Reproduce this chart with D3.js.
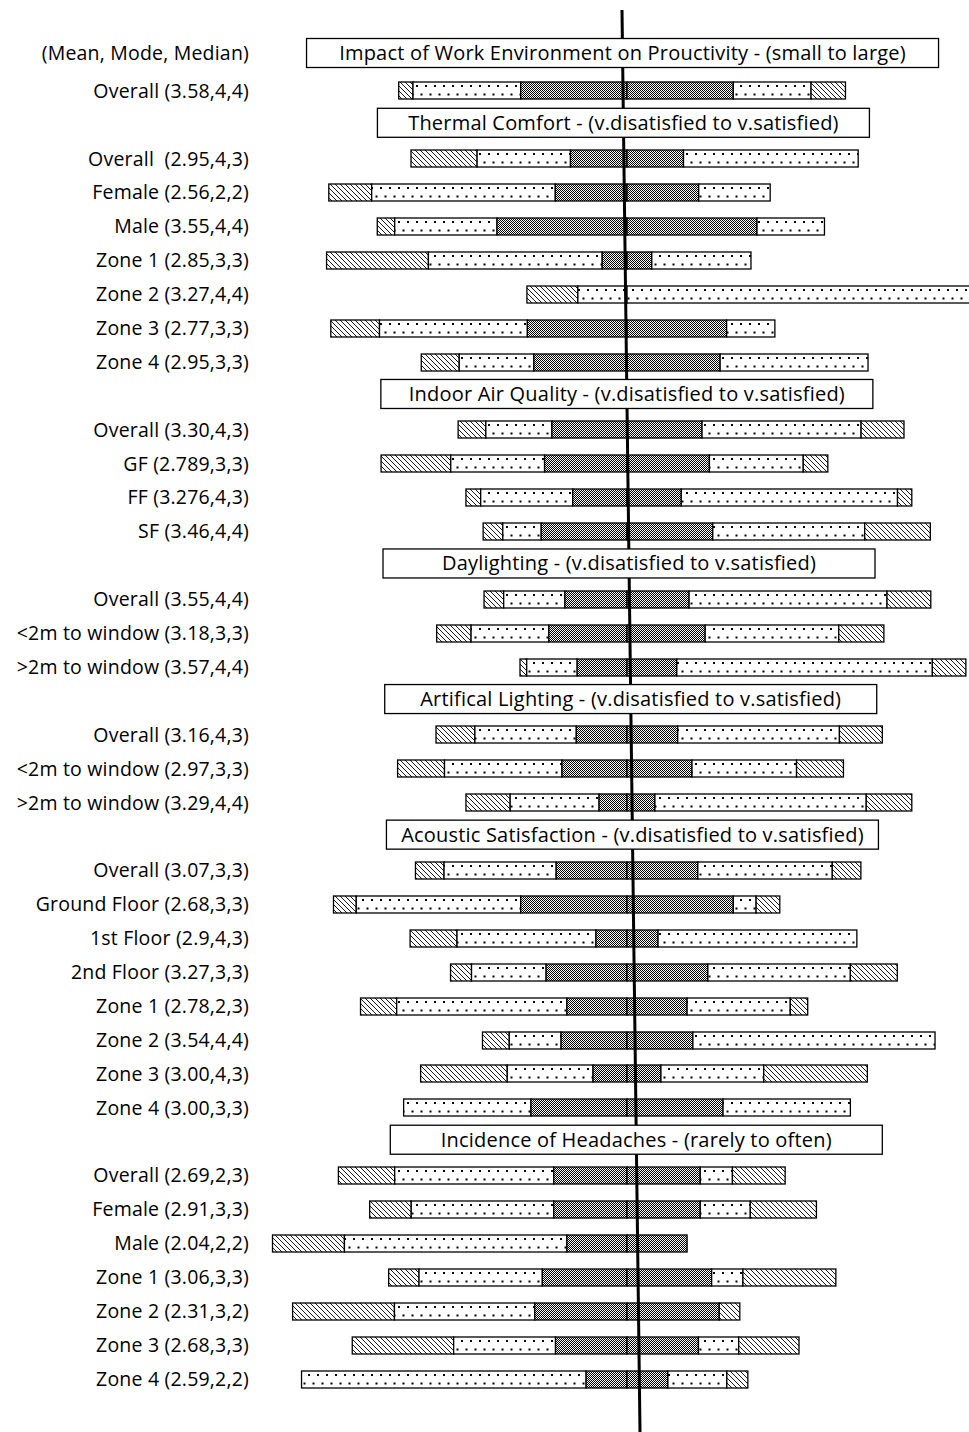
<!DOCTYPE html>
<html>
<head>
<meta charset="utf-8">
<script src="https://cdn.jsdelivr.net/npm/d3@7"></script>
<style>
  body { margin: 0; background: #fff; }
  text { font-family: "Open Sans", sans-serif; font-size: 19.5px; letter-spacing: 0.2px; fill: #000; white-space: pre; }
  .head text { font-size: 20px; }
</style>
</head>
<body>
<svg width="969" height="1432"></svg>
<script>
const headers = [
  "Impact of Work Environment on Prouctivity - (small to large)",
  "Thermal Comfort - (v.disatisfied to v.satisfied)",
  "Indoor Air Quality - (v.disatisfied to v.satisfied)",
  "Daylighting - (v.disatisfied to v.satisfied)",
  "Artifical Lighting - (v.disatisfied to v.satisfied)",
  "Acoustic Satisfaction - (v.disatisfied to v.satisfied)",
  "Incidence of Headaches - (rarely to often)"
];
const statsLabel = "(Mean, Mode, Median)";
const groupSizes = [1, 7, 4, 3, 3, 8, 7];

const rowLabels = [
  "Overall (3.58,4,4)",
  "Overall  (2.95,4,3)", "Female (2.56,2,2)", "Male (3.55,4,4)", "Zone 1 (2.85,3,3)",
  "Zone 2 (3.27,4,4)", "Zone 3 (2.77,3,3)", "Zone 4 (2.95,3,3)",
  "Overall (3.30,4,3)", "GF (2.789,3,3)", "FF (3.276,4,3)", "SF (3.46,4,4)",
  "Overall (3.55,4,4)", "<2m to window (3.18,3,3)", ">2m to window (3.57,4,4)",
  "Overall (3.16,4,3)", "<2m to window (2.97,3,3)", ">2m to window (3.29,4,4)",
  "Overall (3.07,3,3)", "Ground Floor (2.68,3,3)", "1st Floor (2.9,4,3)", "2nd Floor (3.27,3,3)",
  "Zone 1 (2.78,2,3)", "Zone 2 (3.54,4,4)", "Zone 3 (3.00,4,3)", "Zone 4 (3.00,3,3)",
  "Overall (2.69,2,3)", "Female (2.91,3,3)", "Male (2.04,2,2)", "Zone 1 (3.06,3,3)",
  "Zone 2 (2.31,3,2)", "Zone 3 (2.68,3,3)", "Zone 4 (2.59,2,2)"
];

// percent of respondents per answer
const veryLow  = [3.2, 14.8, 9.6, 3.9, 22.8, 11.4, 10.9, 8.5, 6.2, 15.6, 3.3, 4.4, 4.4, 7.7, 1.5, 8.7, 10.5, 9.9, 6.4, 5.1, 10.5, 4.7, 8.1, 6.0, 19.4, 0, 12.6, 9.3, 16.1, 6.8, 22.8, 22.7, 0];
const low      = [24.1, 20.9, 41.1, 22.9, 38.9, 11.0, 33.1, 16.7, 14.8, 21.0, 20.6, 8.6, 13.7, 17.4, 11.3, 22.7, 26.3, 19.9, 25.1, 36.8, 31.1, 16.7, 38.1, 11.6, 19.2, 28.5, 35.6, 31.9, 49.8, 27.6, 31.4, 22.8, 63.7];
const neutral  = [47.6, 25.3, 32.1, 58.2, 11.1, 0, 44.6, 41.7, 33.6, 36.9, 24.3, 38.4, 27.8, 35.0, 22.3, 22.7, 29.1, 12.5, 31.7, 47.6, 13.9, 36.2, 26.9, 29.5, 15.2, 43.0, 32.8, 32.8, 26.9, 37.9, 41.3, 32.0, 18.3];
const high     = [17.4, 39.1, 16.0, 15.1, 22.2, 77.6, 10.8, 33.1, 35.6, 21.0, 48.4, 34.0, 44.3, 29.9, 57.2, 36.2, 23.4, 47.3, 30.1, 5.1, 44.5, 31.9, 23.1, 54.2, 23.0, 28.5, 7.2, 11.2, 0, 7.0, 0, 9.0, 13.2];
const veryHigh = [7.7, 0, 0, 0, 0, 0, 0, 0, 9.6, 5.5, 3.2, 14.7, 9.8, 10.1, 7.5, 9.6, 10.5, 10.2, 6.4, 5.3, 0, 10.5, 3.9, 0, 23.2, 0, 11.8, 14.8, 0, 20.8, 4.6, 13.5, 4.7];

const svg = d3.select("svg");
const width = 969;
const height = 1432;
const barH = 17;

// one slot per header and per row
const items = [];
let r = 0;
headers.forEach((h, g) => {
  items.push({ type: "header", id: "h" + g, text: h, g });
  for (let i = 0; i < groupSizes[g]; i++, r++) items.push({ type: "row", id: "r" + r, i: r });
});

const y = d3.scalePoint().domain(items.map(d => d.id)).range([57, 1379]);
const x = d3.scaleLinear().domain([-80, 80]).range([627 - 357.4, 627 + 357.4]);

// the zero line in the original is drawn by hand and leans slightly
const lineTop = 10, lineBottom = height;
const lineX = yy => x(0) - 5 + 18 * (yy - lineTop) / (lineBottom - lineTop);

// patterns (each bar sits in its own translated group, so tiles line up with the bar top)
const defs = svg.append("defs");
const hatch = defs.append("pattern").attr("id", "hatch")
  .attr("patternUnits", "userSpaceOnUse").attr("width", 5).attr("height", 5);
hatch.append("rect").attr("width", 5).attr("height", 5).attr("fill", "#fff");
hatch.append("path").attr("d", "M0,0L5,5M-1,4L1,6M4,-1L6,1")
  .attr("stroke", "#000").attr("stroke-width", 0.9);

const dots = defs.append("pattern").attr("id", "dots")
  .attr("patternUnits", "userSpaceOnUse").attr("width", 9).attr("height", barH);
dots.append("rect").attr("width", 9).attr("height", barH).attr("fill", "#fff");
dots.append("rect").attr("x", 2).attr("y", 3).attr("width", 2).attr("height", 2).attr("fill", "#000");
dots.append("rect").attr("x", 6.5).attr("y", 11.5).attr("width", 2).attr("height", 2).attr("fill", "#000");

const check = defs.append("pattern").attr("id", "check")
  .attr("patternUnits", "userSpaceOnUse").attr("width", 2).attr("height", 2);
check.append("rect").attr("width", 2).attr("height", 2).attr("fill", "#fff");
check.append("rect").attr("width", 1).attr("height", 1).attr("fill", "#000");
check.append("rect").attr("x", 1).attr("y", 1).attr("width", 1).attr("height", 1).attr("fill", "#000");

const fills = ["url(#hatch)", "url(#dots)", "url(#check)", "url(#check)", "url(#dots)", "url(#hatch)"];

// segments per row, neutral split in two halves around zero
const rows = rowLabels.map((label, i) => {
  const parts = [veryLow[i], low[i], neutral[i] / 2, neutral[i] / 2, high[i], veryHigh[i]];
  let start = -(veryLow[i] + low[i] + neutral[i] / 2);
  const segs = [];
  parts.forEach((v, k) => {
    if (v > 0) segs.push({ x0: start, x1: start + v, fill: fills[k] });
    start += v;
  });
  return { id: "r" + i, segs };
});

const bars = svg.append("g")
  .selectAll("g")
  .data(rows)
  .enter().append("g")
  .attr("transform", d => `translate(0,${Math.round(y(d.id) - barH / 2)})`);

bars.selectAll("rect")
  .data(d => d.segs)
  .enter().append("rect")
  .attr("x", d => x(d.x0))
  .attr("width", d => x(d.x1) - x(d.x0))
  .attr("y", 0)
  .attr("height", barH)
  .attr("fill", d => d.fill)
  .attr("stroke", "#000")
  .attr("stroke-width", 1.3);

// row labels
svg.append("g")
  .selectAll("text")
  .data(items.filter(d => d.type === "row"))
  .enter().append("text")
  .attr("x", 249)
  .attr("y", d => y(d.id))
  .attr("dy", "0.35em")
  .attr("text-anchor", "end")
  .text(d => rowLabels[d.i]);

svg.append("text")
  .attr("x", 249)
  .attr("y", y("h0") - 4)
  .attr("dy", "0.35em")
  .attr("text-anchor", "end")
  .text(statsLabel);

// zero line
svg.append("line")
  .attr("x1", lineX(lineTop)).attr("y1", lineTop)
  .attr("x2", lineX(lineBottom)).attr("y2", lineBottom)
  .attr("stroke", "#000")
  .attr("stroke-width", 3);

// group header boxes
const boxH = 29;
const heads = svg.append("g")
  .attr("class", "head")
  .selectAll("g")
  .data(items.filter(d => d.type === "header"))
  .enter().append("g")
  .attr("transform", d => {
    const cy = y(d.id) - (d.g === 0 ? 4 : 2);
    return `translate(${lineX(cy)},${cy})`;
  });

heads.append("rect")
  .attr("x", d => d.g === 0 ? -316 : -246)
  .attr("width", d => d.g === 0 ? 632 : 492)
  .attr("y", -boxH / 2)
  .attr("height", boxH)
  .attr("fill", "#fff")
  .attr("stroke", "#000")
  .attr("stroke-width", 1.3);

heads.append("text")
  .attr("text-anchor", "middle")
  .attr("dy", "0.35em")
  .text(d => d.text);
</script>
</body>
</html>
